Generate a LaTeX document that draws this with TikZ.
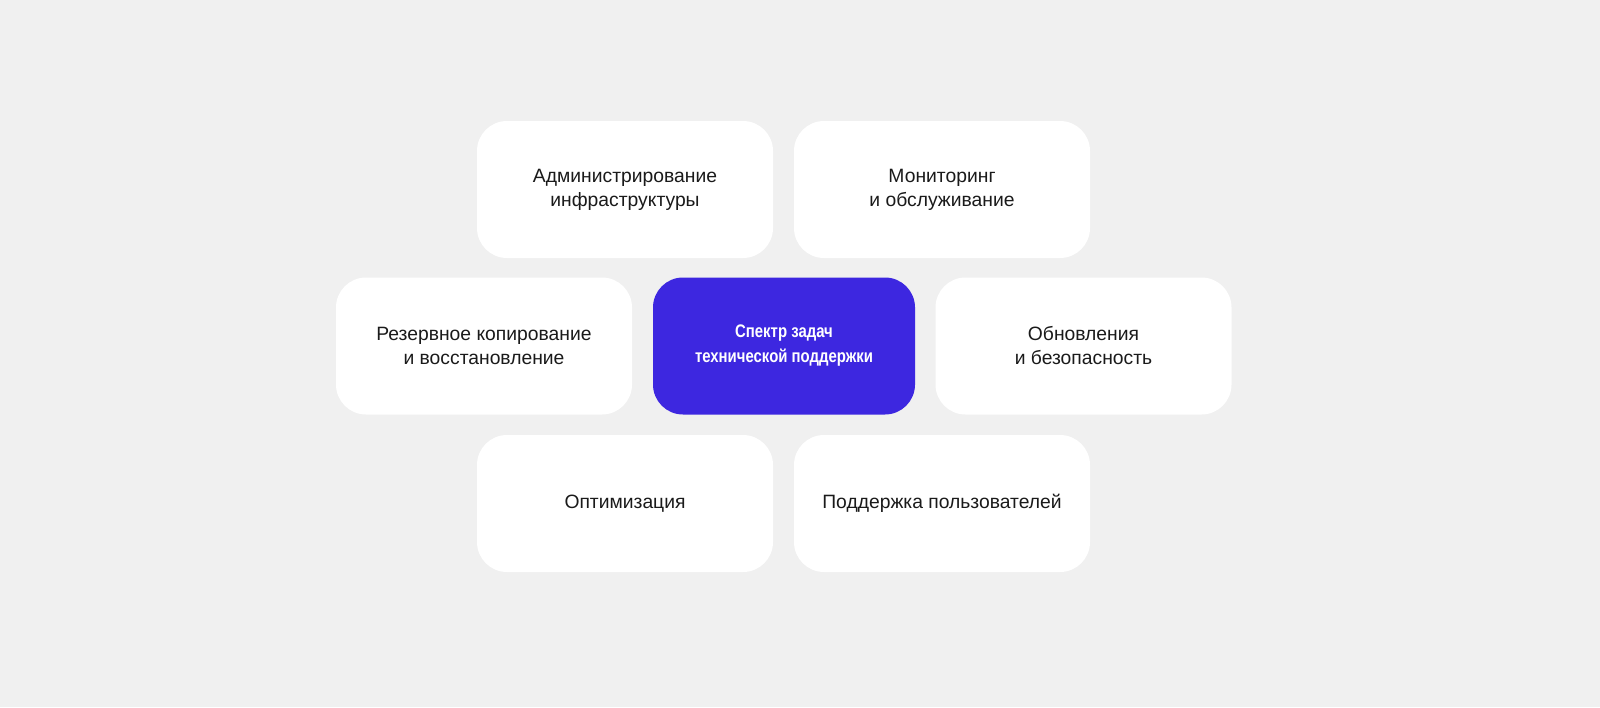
\documentclass[tikz,border=0pt]{standalone}
\usepackage{fontspec}
\setmainfont{Liberation Sans}
\newfontfamily\hubfont[FakeStretch=0.82]{Liberation Sans}
\definecolor{bg}{HTML}{F0F0F0}
\definecolor{accent}{HTML}{3D27E0}
\definecolor{txt}{HTML}{1A1A1A}
\tikzset{
  card/.style={fill=white, draw=none, rounded corners=30pt, minimum width=296pt, minimum height=137pt, align=center, text=txt, font=\fontsize{19.3}{24}\selectfont, inner sep=0pt},
  hub/.style={card, fill=accent, text=white, minimum width=262pt, font=\hubfont\fontsize{18.2}{25}\selectfont\bfseries}
}
\begin{document}
\begin{tikzpicture}[x=1pt,y=1pt]
\fill[bg] (0,0) rectangle (1600,-707);
\useasboundingbox (0,0) rectangle (1600,-707);
\node[card] (adm) at (625,-189.5) {Администрирование\\инфраструктуры};
\node[card] (mon) at (942,-189.5) {Мониторинг\\и обслуживание};
\node[card] (res) at (484,-346) {Резервное копирование\\и восстановление};
\node[hub] (hub) at (784,-346) {Спектр задач\\технической поддержки};
\node[card] (upd) at (1083.5,-346) {Обновления\\и безопасность};
\node[card] (opt) at (625,-503.5) {Оптимизация};
\node[card] (sup) at (942,-503.5) {Поддержка пользователей};
\end{tikzpicture}
\end{document}
